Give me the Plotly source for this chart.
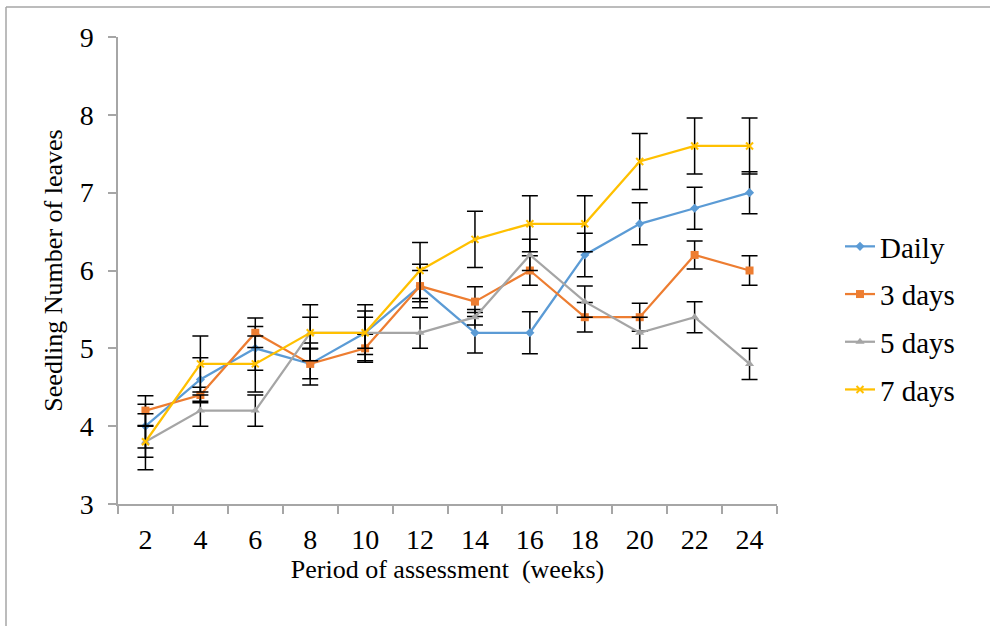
import plotly.graph_objects as go

weeks = ["2", "4", "6", "8", "10", "12", "14", "16", "18", "20", "22", "24"]
daily = [4.0, 4.6, 5.0, 4.8, 5.2, 5.8, 5.2, 5.2, 6.2, 6.6, 6.8, 7.0]
days3 = [4.2, 4.4, 5.2, 4.8, 5.0, 5.8, 5.6, 6.0, 5.4, 5.4, 6.2, 6.0]
days5 = [3.8, 4.2, 4.2, 5.2, 5.2, 5.2, 5.4, 6.2, 5.6, 5.2, 5.4, 4.8]
days7 = [3.8, 4.8, 4.8, 5.2, 5.2, 6.0, 6.4, 6.6, 6.6, 7.4, 7.6, 7.6]
err_daily = [0.28, 0.28, 0.28, 0.27, 0.28, 0.28, 0.26, 0.27, 0.28, 0.27, 0.27, 0.27]
err_3 = [0.19, 0.1, 0.19, 0.19, 0.18, 0.2, 0.19, 0.19, 0.19, 0.18, 0.18, 0.19]
err_5 = [0.2, 0.2, 0.2, 0.2, 0.2, 0.2, 0.1, 0.2, 0.2, 0.2, 0.2, 0.2]
err_7 = [0.36, 0.36, 0.36, 0.36, 0.36, 0.36, 0.36, 0.36, 0.36, 0.36, 0.36, 0.36]
names = ["Daily", "3 days", "5 days", "7 days"]

series = [daily, days3, days5, days7]
errors = [err_daily, err_3, err_5, err_7]
colors = ["#5B9BD5", "#ED7D31", "#A5A5A5", "#FFC000"]
symbols = ["diamond", "square", "triangle-up", "x-thin-open"]
msizes = [7, 8, 8, 7]

FONT = "Liberation Serif"

fig = go.Figure()
for i in range(4):
    marker = dict(color=colors[i], symbol=symbols[i], size=msizes[i])
    if symbols[i] == "x-thin-open":
        marker["line"] = dict(color=colors[i], width=2)
    fig.add_trace(go.Scatter(
        x=weeks, y=series[i], name=names[i], mode="lines+markers",
        line=dict(color=colors[i], width=2.25),
        marker=marker,
        legendgroup=names[i],
        error_y=dict(type="data", array=errors[i], visible=True,
                     color="black", thickness=1.5, width=8),
    ))

axis_color = "#A6A6A6"
L, R, T, B = 118, 213, 37, 122
PW, PH = 990 - L - R, 626 - T - B
fig.update_layout(
    width=990, height=626,
    paper_bgcolor="white", plot_bgcolor="white",
    margin=dict(l=L, r=R, t=T, b=B, autoexpand=False),
    font=dict(family=FONT, color="black"),
    showlegend=True,
    legend=dict(x=(840 - L) / PW, xanchor="left", y=(626 - B - 318) / PH, yanchor="middle",
                font=dict(family=FONT, size=29, color="black"),
                tracegroupgap=7, bgcolor="rgba(0,0,0,0)"),
    xaxis=dict(type="category", range=[-0.5, 11.5], showline=True, linecolor=axis_color,
               linewidth=1.5, ticks="outside", tickson="boundaries", ticklen=8,
               tickcolor=axis_color, tickwidth=1.5, showgrid=False, zeroline=False,
               tickfont=dict(family=FONT, size=28, color="black"),
               ticklabelstandoff=10,
               title=dict(text="Period of assessment&nbsp;&nbsp;(weeks)",
                          font=dict(family=FONT, size=26, color="black"), standoff=0)),
    yaxis=dict(range=[3, 9], dtick=1, showline=True, linecolor=axis_color, linewidth=1.5,
               ticks="outside", ticklen=8, tickcolor=axis_color, tickwidth=1.5,
               showgrid=False, zeroline=False,
               tickfont=dict(family=FONT, size=28, color="black"),
               ticklabelstandoff=9,
               title=dict(text="Seedling Number of leaves",
                          font=dict(family=FONT, size=26, color="black"), standoff=10)),
    shapes=[
        dict(type="line", xref="paper", yref="paper", x0=(6 - L) / PW, x1=(990 - L) / PW,
             y0=(626 - B - 7) / PH, y1=(626 - B - 7) / PH,
             line=dict(color="#A6A6A6", width=1.5)),
        dict(type="line", xref="paper", yref="paper", x0=(6 - L) / PW, x1=(6 - L) / PW,
             y0=(626 - B - 7) / PH, y1=-B / PH,
             line=dict(color="#A6A6A6", width=1.5)),
    ],
)

fig.write_html("out.html", config={"displayModeBar": False},
               post_script="document.body.style.margin='0';")
